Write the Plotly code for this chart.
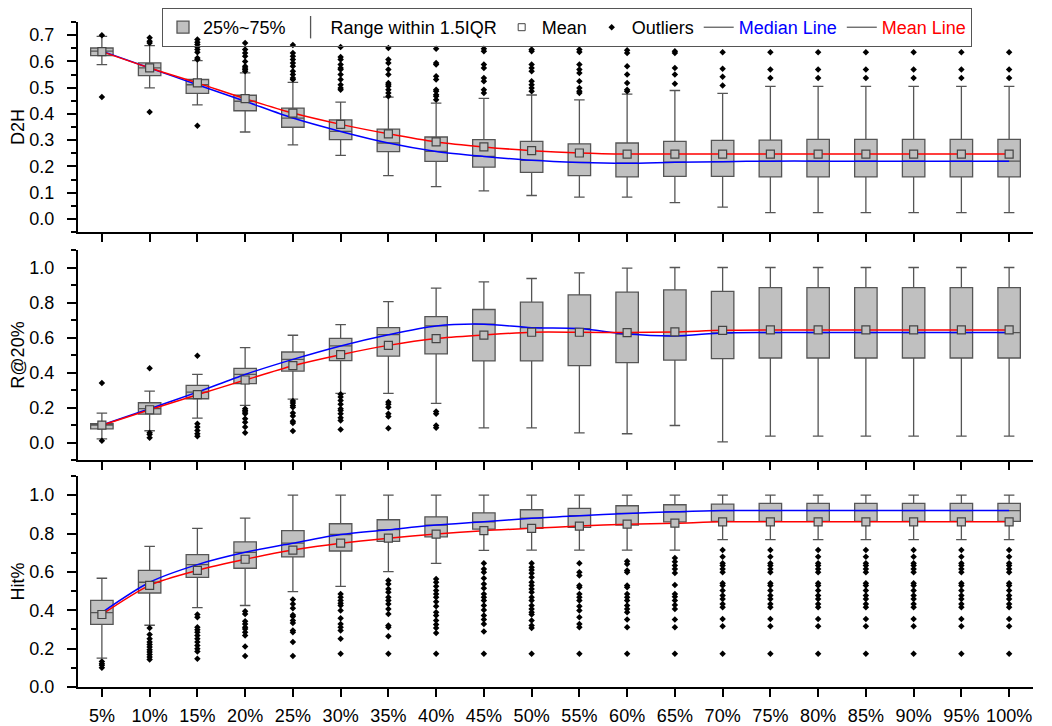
import plotly.graph_objects as go

cats = ["5%", "10%", "15%", "20%", "25%", "30%", "35%", "40%", "45%", "50%",
        "55%", "60%", "65%", "70%", "75%", "80%", "85%", "90%", "95%", "100%"]

# ---------------- D2H ----------------
d2h_q1 = [0.622, 0.546, 0.478, 0.412, 0.349, 0.302, 0.256, 0.219, 0.197, 0.177,
          0.165, 0.160, 0.162, 0.162, 0.160, 0.160, 0.160, 0.160, 0.160, 0.160]
d2h_med = [0.639, 0.575, 0.511, 0.448, 0.384, 0.333, 0.289, 0.257, 0.238, 0.223,
           0.215, 0.212, 0.216, 0.218, 0.220, 0.220, 0.220, 0.220, 0.220, 0.220]
d2h_q3 = [0.651, 0.594, 0.531, 0.471, 0.422, 0.377, 0.342, 0.312, 0.302, 0.295,
          0.286, 0.289, 0.295, 0.299, 0.300, 0.303, 0.303, 0.303, 0.303, 0.303]
d2h_mean = [0.637, 0.575, 0.518, 0.458, 0.403, 0.360, 0.324, 0.293, 0.274, 0.260,
            0.251, 0.247, 0.247, 0.247, 0.247, 0.247, 0.247, 0.247, 0.247, 0.247]
d2h_low = [0.588, 0.499, 0.434, 0.331, 0.282, 0.242, 0.165, 0.123, 0.107, 0.089,
           0.083, 0.083, 0.062, 0.045, 0.024, 0.024, 0.024, 0.024, 0.024, 0.024]
d2h_up = [0.695, 0.660, 0.603, 0.556, 0.520, 0.445, 0.464, 0.441, 0.459, 0.472,
          0.453, 0.475, 0.489, 0.478, 0.505, 0.505, 0.505, 0.505, 0.505, 0.505]
d2h_out = [
    [0.700, 0.464],
    [0.690, 0.677, 0.670, 0.407],
    [0.683, 0.673, 0.664, 0.655, 0.645, 0.635, 0.613, 0.607, 0.355],
    [0.670, 0.645, 0.632, 0.620, 0.600, 0.581, 0.575, 0.569, 0.562],
    [0.662, 0.632, 0.620, 0.607, 0.594, 0.581, 0.562, 0.550, 0.537, 0.531],
    [0.655, 0.617, 0.607, 0.588, 0.575, 0.569, 0.550, 0.531, 0.511, 0.499, 0.492],
    [0.651, 0.607, 0.594, 0.569, 0.550, 0.518, 0.511, 0.505, 0.492, 0.480, 0.467],
    [0.648, 0.594, 0.588, 0.543, 0.531, 0.492, 0.486, 0.473, 0.467, 0.454],
    [0.648, 0.639, 0.588, 0.575, 0.537, 0.524, 0.492, 0.480],
    [0.645, 0.639, 0.588, 0.575, 0.562, 0.524, 0.511, 0.499, 0.486],
    [0.645, 0.636, 0.588, 0.569, 0.556, 0.524, 0.499, 0.486, 0.480],
    [0.642, 0.632, 0.581, 0.550, 0.518, 0.492, 0.486],
    [0.639, 0.632, 0.575, 0.550, 0.515],
    [0.635, 0.572, 0.541, 0.508],
    [0.635, 0.569, 0.537],
    [0.635, 0.569, 0.537],
    [0.635, 0.569, 0.537],
    [0.635, 0.569, 0.537],
    [0.635, 0.569, 0.537],
    [0.635, 0.569, 0.537],
]

# ---------------- R@20% ----------------
r20_q1 = [0.078, 0.162, 0.250, 0.336, 0.408, 0.468, 0.494, 0.506, 0.466, 0.466,
          0.439, 0.456, 0.471, 0.479, 0.483, 0.483, 0.483, 0.483, 0.483, 0.483]
r20_med = [0.100, 0.193, 0.288, 0.389, 0.475, 0.552, 0.616, 0.666, 0.676, 0.656,
           0.651, 0.620, 0.609, 0.626, 0.628, 0.628, 0.628, 0.628, 0.628, 0.628]
r20_q3 = [0.107, 0.227, 0.326, 0.424, 0.517, 0.595, 0.656, 0.719, 0.760, 0.802,
          0.844, 0.859, 0.872, 0.864, 0.885, 0.885, 0.885, 0.885, 0.885, 0.885]
r20_mean = [0.099, 0.187, 0.273, 0.357, 0.439, 0.502, 0.555, 0.594, 0.614, 0.630,
            0.630, 0.628, 0.632, 0.641, 0.643, 0.643, 0.643, 0.643, 0.643, 0.643]
r20_low = [0.021, 0.067, 0.139, 0.212, 0.248, 0.281, 0.281, 0.223, 0.084, 0.084,
           0.055, 0.050, 0.097, 0.004, 0.036, 0.036, 0.036, 0.036, 0.036, 0.036]
r20_up = [0.168, 0.294, 0.389, 0.542, 0.613, 0.674, 0.805, 0.882, 0.918, 0.937,
          0.969, 0.996, 1.000, 1.000, 1.000, 1.000, 1.000, 1.000, 1.000, 1.000]
r20_out = [
    [0.340, 0.010],
    [0.424, 0.055, 0.046, 0.027],
    [0.496, 0.107, 0.088, 0.069, 0.050, 0.036],
    [0.193, 0.183, 0.174, 0.164, 0.135, 0.116, 0.088, 0.055],
    [0.237, 0.225, 0.212, 0.202, 0.168, 0.151, 0.122, 0.111, 0.065],
    [0.275, 0.260, 0.240, 0.218, 0.193, 0.183, 0.164, 0.141, 0.126, 0.074],
    [0.231, 0.218, 0.202, 0.164, 0.149, 0.082],
    [0.177, 0.164, 0.097, 0.084],
    [], [], [], [], [], [], [], [], [], [], [], [],
]

# ---------------- Hit% ----------------
hit_q1 = [0.326, 0.490, 0.572, 0.619, 0.678, 0.709, 0.759, 0.783, 0.823, 0.827,
          0.832, 0.844, 0.861, 0.863, 0.863, 0.863, 0.863, 0.863, 0.863, 0.863]
hit_med = [0.388, 0.546, 0.638, 0.702, 0.750, 0.795, 0.820, 0.844, 0.861, 0.880,
           0.893, 0.905, 0.913, 0.920, 0.920, 0.920, 0.920, 0.920, 0.920, 0.920]
hit_q3 = [0.452, 0.608, 0.690, 0.757, 0.815, 0.851, 0.872, 0.887, 0.908, 0.924,
          0.931, 0.945, 0.950, 0.953, 0.957, 0.957, 0.957, 0.957, 0.957, 0.957]
hit_mean = [0.378, 0.530, 0.608, 0.666, 0.714, 0.750, 0.776, 0.797, 0.815, 0.827,
            0.839, 0.849, 0.854, 0.861, 0.861, 0.861, 0.861, 0.861, 0.861, 0.861]
hit_low = [0.151, 0.322, 0.414, 0.425, 0.497, 0.525, 0.601, 0.645, 0.712, 0.714,
           0.714, 0.714, 0.714, 0.768, 0.768, 0.768, 0.768, 0.768, 0.768, 0.768]
hit_up = [0.567, 0.733, 0.827, 0.880, 1.000, 1.000, 1.000, 1.000, 1.000, 1.000,
          1.000, 1.000, 1.000, 1.000, 1.000, 1.000, 1.000, 1.000, 1.000, 1.000]
_hit_tail = [0.714, 0.679, 0.645, 0.633, 0.615, 0.598, 0.541, 0.529, 0.503, 0.477,
             0.459, 0.433, 0.416, 0.355, 0.317, 0.173]
hit_out = [
    [0.133, 0.121, 0.113, 0.101],
    [0.307, 0.274, 0.251, 0.234, 0.222, 0.208, 0.194, 0.182, 0.170, 0.156, 0.144],
    [0.378, 0.364, 0.312, 0.298, 0.286, 0.269, 0.251, 0.234, 0.217, 0.199, 0.185, 0.147],
    [0.395, 0.381, 0.343, 0.329, 0.312, 0.303, 0.286, 0.269, 0.211, 0.161],
    [0.456, 0.433, 0.411, 0.376, 0.367, 0.347, 0.334, 0.295, 0.286, 0.234, 0.161],
    [0.485, 0.468, 0.451, 0.437, 0.425, 0.399, 0.359, 0.329, 0.312, 0.295, 0.251, 0.173],
    [0.555, 0.537, 0.511, 0.494, 0.468, 0.451, 0.433, 0.407, 0.381, 0.321, 0.312, 0.265, 0.173],
    [0.563, 0.546, 0.525, 0.503, 0.485, 0.468, 0.445, 0.421, 0.390, 0.373, 0.347, 0.326,
     0.308, 0.281, 0.173],
    [0.645, 0.615, 0.598, 0.567, 0.537, 0.515, 0.485, 0.468, 0.451, 0.425, 0.402, 0.373,
     0.352, 0.329, 0.289, 0.173],
    [0.645, 0.624, 0.610, 0.593, 0.572, 0.546, 0.529, 0.511, 0.494, 0.468, 0.451, 0.425,
     0.407, 0.390, 0.378, 0.347, 0.321, 0.307, 0.173],
    [0.645, 0.598, 0.581, 0.529, 0.520, 0.485, 0.468, 0.451, 0.421, 0.399, 0.364, 0.329,
     0.312, 0.173],
    [0.655, 0.641, 0.607, 0.598, 0.529, 0.520, 0.485, 0.468, 0.451, 0.425, 0.407, 0.390,
     0.352, 0.312, 0.173],
    [0.672, 0.653, 0.633, 0.615, 0.594, 0.532, 0.485, 0.471, 0.451, 0.428, 0.407, 0.352,
     0.312, 0.173],
    _hit_tail, _hit_tail, _hit_tail, _hit_tail, _hit_tail, _hit_tail, _hit_tail,
]

panels = [
    dict(name="D2H", q1=d2h_q1, med=d2h_med, q3=d2h_q3, mean=d2h_mean,
         low=d2h_low, up=d2h_up, out=d2h_out, rng=[-0.05, 0.75], dt=0.1, mdt=0.05),
    dict(name="R@20%", q1=r20_q1, med=r20_med, q3=r20_q3, mean=r20_mean,
         low=r20_low, up=r20_up, out=r20_out, rng=[-0.1, 1.1], dt=0.2, mdt=0.1),
    dict(name="Hit%", q1=hit_q1, med=hit_med, q3=hit_q3, mean=hit_mean,
         low=hit_low, up=hit_up, out=hit_out, rng=[0.0, 1.1], dt=0.2, mdt=0.1),
]

BOX_FILL = "#c0c0c0"
BOX_LINE = "#555555"
FONT = "Liberation Sans, Arial, sans-serif"

fig = go.Figure()

for i, p in enumerate(panels):
    sfx = "" if i == 0 else str(i + 1)
    xa, ya = "x" + sfx, "y" + sfx
    fig.add_trace(go.Box(
        x=cats, q1=p["q1"], median=p["med"], q3=p["q3"],
        lowerfence=p["low"], upperfence=p["up"],
        boxpoints=False, width=0.47, whiskerwidth=0.47,
        fillcolor=BOX_FILL, line=dict(color=BOX_LINE, width=1.3),
        name="25%~75%", showlegend=(i == 0), xaxis=xa, yaxis=ya, hoverinfo="skip"))
    if i == 0:
        fig.add_trace(go.Scatter(x=[None], y=[None], mode="markers", name="Range within 1.5IQR",
                                 marker=dict(symbol="line-ns-open", size=16, color="#555555",
                                             line=dict(color="#555555", width=1.3))))
        fig.add_trace(go.Scatter(x=[None], y=[None], mode="markers", name="Mean",
                                 marker=dict(symbol="square-open", size=7, color="#444444",
                                             line=dict(color="#444444", width=1))))
        fig.add_trace(go.Scatter(x=[None], y=[None], mode="markers", name="Outliers",
                                 marker=dict(symbol="diamond", size=5, color="black")))
        fig.add_trace(go.Scatter(x=[None], y=[None], mode="lines",
                                 name="<span style='color:#0000ff'>Median Line</span>",
                                 line=dict(color="#333333", width=1)))
        fig.add_trace(go.Scatter(x=[None], y=[None], mode="lines",
                                 name="<span style='color:#ff0000'>Mean Line</span>",
                                 line=dict(color="#333333", width=1)))
    fig.add_trace(go.Scatter(x=cats, y=p["med"], mode="lines", showlegend=False,
                             line=dict(color="#0000ff", width=1.5, shape="spline", smoothing=0.8),
                             xaxis=xa, yaxis=ya, hoverinfo="skip"))
    fig.add_trace(go.Scatter(x=cats, y=p["mean"], mode="lines", showlegend=False,
                             line=dict(color="#ff0000", width=1.5, shape="spline", smoothing=0.8),
                             xaxis=xa, yaxis=ya, hoverinfo="skip"))
    fig.add_trace(go.Scatter(x=cats, y=p["mean"], mode="markers", showlegend=False,
                             marker=dict(symbol="square", size=8, color=BOX_FILL,
                                         line=dict(color="#444444", width=1.2)),
                             xaxis=xa, yaxis=ya))
    ox, oy = [], []
    for c, vals in zip(cats, p["out"]):
        for v in vals:
            ox.append(c)
            oy.append(v)
    fig.add_trace(go.Scatter(x=ox, y=oy, mode="markers", showlegend=False,
                             marker=dict(symbol="diamond", size=5, color="black"),
                             xaxis=xa, yaxis=ya))

# page has an 8px body margin -> figure coordinates = page coordinates - 8
OFF = 8
W, H = 1052 - OFF, 726 - OFF
plot_left, plot_right = 78 - OFF, 1033 - OFF
plot_top, plot_bot = 22 - OFF, 687 - OFF
ml, mr, mt, mb = plot_left, W - plot_right, plot_top, H - plot_bot
ph = plot_bot - plot_top

def dom(top_page, bot_page):
    t, b = top_page - OFF, bot_page - OFF
    return [(plot_bot - b) / ph, (plot_bot - t) / ph]

domains = [dom(22, 232), dom(250, 460), dom(476, 687)]

layout = dict(
    width=W, height=H,
    margin=dict(l=ml, r=mr, t=mt, b=mb, autoexpand=False),
    paper_bgcolor="white", plot_bgcolor="white",
    font=dict(family=FONT, size=18, color="black"),
    boxmode="overlay",
    legend=dict(orientation="h", x=(567 - 78) / (1033 - 78), xanchor="center",
                y=1 + plot_top / ph, yanchor="top",
                bordercolor="#555555", borderwidth=1, bgcolor="rgba(255,255,255,0)",
                font=dict(size=18), traceorder="normal", itemwidth=30,
                tracegroupgap=0),
)
for i, p in enumerate(panels):
    sfx = "" if i == 0 else str(i + 1)
    layout["xaxis" + sfx] = dict(
        type="category", categoryorder="array", categoryarray=cats,
        range=[-0.5, 19.5], domain=[0, 1], anchor="y" + sfx,
        showline=True, linecolor="black", linewidth=2,
        ticks="outside", ticklen=8, tickwidth=2, tickcolor="black",
        showgrid=False, zeroline=False, showticklabels=(i == 2),
        tickfont=dict(size=18), ticklabelstandoff=3,
        matches=None if i == 0 else "x",
    )
    layout["yaxis" + sfx] = dict(
        domain=domains[i], anchor="x" + sfx, range=p["rng"],
        tick0=0, dtick=p["dt"], tickformat=".1f",
        showline=True, linecolor="black", linewidth=2,
        ticks="outside", ticklen=9, tickwidth=2, tickcolor="black",
        minor=dict(dtick=p["mdt"], tick0=0, ticks="outside", ticklen=5, tickwidth=2,
                   tickcolor="black", showgrid=False),
        showgrid=False, zeroline=False, tickfont=dict(size=18),
        ticklabelstandoff=9,
        title=dict(text=p["name"], font=dict(size=18), standoff=8),
    )
fig.update_layout(**layout)

fig.write_html("out.html")
